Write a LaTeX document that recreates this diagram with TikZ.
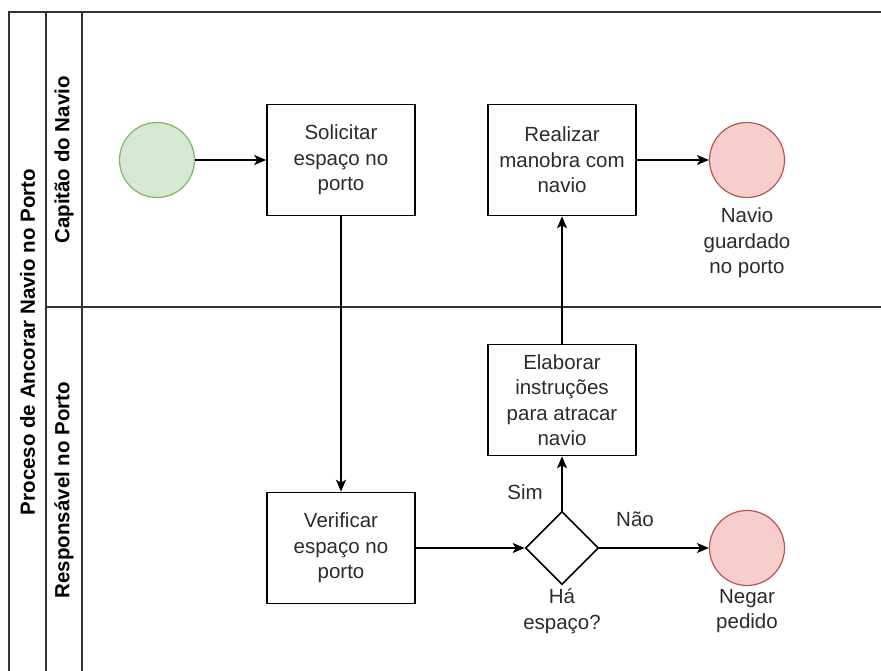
\documentclass[tikz,border=0pt]{standalone}
\usepackage{fontspec}
\setmainfont{Liberation Sans}
\usetikzlibrary{shapes.geometric,arrows.meta}

\definecolor{startfill}{HTML}{D5E8D4}
\definecolor{startline}{HTML}{82B366}
\definecolor{endfill}{HTML}{F8CECC}
\definecolor{endline}{HTML}{B85450}
\definecolor{ink}{HTML}{2B2B2B}

\tikzset{
  txt/.style={font=\fontsize{20.5}{25.5}\selectfont, text=ink, align=center, inner sep=0pt},
  head/.style={font=\bfseries\fontsize{20.5}{25.5}\selectfont, text=black, rotate=90, inner sep=0pt},
  task/.style={txt, draw=black, line width=1.6pt, rectangle, minimum width=148pt, minimum height=111pt},
  startev/.style={circle, draw=startline, fill=startfill, line width=1.2pt, minimum size=75pt, inner sep=0pt},
  endev/.style={circle, draw=endline, fill=endfill, line width=1.2pt, minimum size=75pt, inner sep=0pt},
  gate/.style={diamond, draw=black, line width=1.6pt, aspect=1, minimum size=73pt, inner sep=0pt},
  flow/.style={draw=black, line width=1.6pt, -{Stealth[length=12pt, width=10pt, inset=3pt]}},
  lane/.style={draw=black!80, line width=1.6pt}
}

\begin{document}
\begin{tikzpicture}[x=1pt, y=-1pt]
\useasboundingbox (0,0) rectangle (881,671);
\clip (0,0) rectangle (881,671);

% pool and lanes
\draw[lane] (9,12) rectangle (895,674);
\draw[lane] (46,12) -- (46,674);
\draw[lane] (82,12) -- (82,674);
\draw[lane] (46,307) -- (895,307);

\node[head] (pool) at (27.5,342) {Proceso de Ancorar Navio no Porto};
\node[head] (lane1) at (64,160) {Capitão do Navio};
\node[head] (lane2) at (64,490) {Responsável no Porto};

% events and tasks
\node[startev] (start) at (157,160) {};
\node[task] (solicitar) at (341,160) {Solicitar\\espaço no\\porto};
\node[task] (realizar) at (562,160) {Realizar\\manobra com\\navio};
\node[endev] (fim1) at (747,160) {};
\node[txt] (fim1lbl) at (747,243) {Navio\\guardado\\no porto};

\node[task] (elaborar) at (562,400) {Elaborar\\instruções\\para atracar\\navio};
\node[task] (verificar) at (341,548) {Verificar\\espaço no\\porto};
\node[gate] (gw) at (562,548) {};
\node[txt] (gwlbl) at (562,611) {Há\\espaço?};
\node[endev] (fim2) at (747,548) {};
\node[txt] (fim2lbl) at (747,611) {Negar\\pedido};

\node[txt] (sim) at (525,492) {Sim};
\node[txt] (nao) at (635,519) {Não};

% sequence flows
\draw[flow] (start) -- (solicitar);
\draw[flow] (solicitar) -- (verificar);
\draw[flow] (verificar) -- (gw);
\draw[flow] (gw.north) -- (elaborar.south);
\draw[flow] (gw) -- (fim2);
\draw[flow] (elaborar) -- (realizar);
\draw[flow] (realizar) -- (fim1);
\end{tikzpicture}
\end{document}
